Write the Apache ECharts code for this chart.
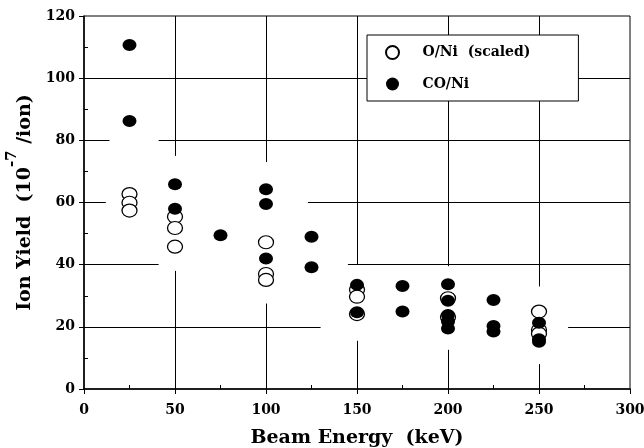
<!DOCTYPE html>
<html>
<head>
<meta charset="utf-8">
<script src="https://cdn.jsdelivr.net/npm/echarts@6/dist/echarts.min.js"></script>
<style>
  html, body { margin: 0; padding: 0; background: #fff; }
  #chart { width: 644px; height: 448px; }
</style>
</head>
<body>
<div id="chart"></div>
<script type="text/javascript">
    // O/Ni (scaled) - open circles
    var oNiEnergy = [25, 25, 25, 50, 50, 50, 100, 100, 100, 150, 150, 150, 200, 200, 250, 250, 250];
    var oNiYield  = [62.7, 59.9, 57.4, 55.4, 51.8, 45.8, 47.2, 37.0, 35.1, 31.9, 29.7, 24.1, 29.2, 23.2, 24.9, 19.0, 17.8];

    // CO/Ni - filled circles
    var coNiEnergy = [25, 25, 50, 50, 75, 100, 100, 100, 125, 125, 150, 150, 175, 175, 200, 200, 200, 200, 200, 225, 225, 225, 250, 250, 250];
    var coNiYield  = [110.7, 86.2, 65.9, 58.0, 49.5, 64.3, 59.5, 42.0, 49.0, 39.2, 33.5, 24.7, 33.1, 24.9, 33.7, 28.4, 23.8, 21.7, 19.5, 28.6, 20.3, 18.5, 21.3, 16.0, 15.2];

    var seriesNames = ['O/Ni  (scaled)', 'CO/Ni'];
    var xTicks = [0, 50, 100, 150, 200, 250, 300];
    var yTicks = [0, 20, 40, 60, 80, 100, 120];

    // grid lines of the original are broken where the data sit
    var hGridY    = [20, 20, 40, 40, 60, 60, 80, 80, 100];
    var hGridFrom = [0, 266, 0, 145, 0, 123, 0, 41, 0];
    var hGridTo   = [130, 300, 41, 300, 12, 300, 14, 300, 300];
    var vGridX    = [50, 50, 100, 100, 150, 150, 200, 200, 250, 250];
    var vGridFrom = [0, 75, 0, 73, 0, 40, 0, 39.5, 0, 33];
    var vGridTo   = [38, 120, 27.5, 120, 15.5, 120, 12.6, 120, 8, 120];

    function zip(xs, ys) {
        return xs.map(function (x, i) { return [x, ys[i]]; });
    }
    var gridSegs = [];
    hGridY.forEach(function (y, i) {
        gridSegs.push({coords: [[hGridFrom[i], y], [hGridTo[i], y]]});
    });
    vGridX.forEach(function (x, i) {
        gridSegs.push({coords: [[x, vGridFrom[i]], [x, vGridTo[i]]]});
    });

    var serif = 'DejaVu Serif';
    var chart = echarts.init(document.getElementById('chart'));
    var option = {
        animation: false,
        backgroundColor: '#fff',
        grid: {
            left: 84, right: 14, top: 16, bottom: 59,
            outerBoundsMode: 'none', containLabel: false,
            show: true, borderColor: '#000', borderWidth: 1
        },
        legend: {
            left: 367, top: 35,
            orient: 'vertical',
            data: [{name: seriesNames[0], icon: 'circle'}, {name: seriesNames[1], icon: 'circle'}],
            itemWidth: 14, itemHeight: 13, itemGap: 17,
            padding: [10, 48, 10, 18],
            backgroundColor: '#fff',
            borderColor: '#000', borderWidth: 1, borderRadius: 0,
            textStyle: {fontFamily: serif, fontWeight: 'bold', fontSize: 14, color: '#000', padding: [0, 0, 0, 18]}
        },
        xAxis: {
            type: 'value', min: xTicks[0], max: xTicks[xTicks.length - 1], interval: 50,
            name: 'Beam Energy  (keV)', nameLocation: 'middle', nameGap: 40,
            nameTextStyle: {fontFamily: serif, fontWeight: 'bold', fontSize: 19, color: '#000'},
            axisLine: {lineStyle: {color: '#000', width: 1.5}},
            axisTick: {show: true, length: 5, lineStyle: {color: '#000'}},
            minorTick: {show: true, splitNumber: 2, length: -4, lineStyle: {color: '#000'}},
            axisLabel: {fontFamily: serif, fontWeight: 'bold', fontSize: 14, color: '#000', margin: 14},
            splitLine: {show: false}
        },
        yAxis: {
            type: 'value', min: yTicks[0], max: yTicks[yTicks.length - 1], interval: 20,
            name: '{n|Ion Yield  (10}{s|-7}{n| /ion)}', nameLocation: 'middle', nameGap: 44,
            nameTextStyle: {
                rich: {
                    n: {fontFamily: serif, fontWeight: 'bold', fontSize: 19, color: '#000', lineHeight: 30, verticalAlign: 'bottom'},
                    s: {fontFamily: serif, fontWeight: 'bold', fontSize: 15, color: '#000', lineHeight: 30, verticalAlign: 'top'}
                }
            },
            axisLine: {lineStyle: {color: '#000', width: 1.5}},
            axisTick: {show: true, length: 5, lineStyle: {color: '#000'}},
            minorTick: {show: true, splitNumber: 2, length: -4, lineStyle: {color: '#000'}},
            axisLabel: {fontFamily: serif, fontWeight: 'bold', fontSize: 14, color: '#000', margin: 9},
            splitLine: {show: false}
        },
        series: [
            {
                name: 'grid',
                type: 'lines',
                coordinateSystem: 'cartesian2d',
                silent: true,
                z: 1,
                lineStyle: {color: '#000', width: 1, opacity: 1},
                data: gridSegs
            },
            {
                name: seriesNames[0],
                type: 'scatter',
                symbol: 'circle',
                symbolSize: [15, 13],
                itemStyle: {color: '#fff', borderColor: '#000', borderWidth: 1.2, opacity: 1},
                data: zip(oNiEnergy, oNiYield)
            },
            {
                name: seriesNames[1],
                type: 'scatter',
                symbol: 'circle',
                symbolSize: [14, 12],
                itemStyle: {color: '#000', opacity: 1},
                data: zip(coNiEnergy, coNiYield)
            }
        ]
    };
    chart.setOption(option);
</script>
</body>
</html>
